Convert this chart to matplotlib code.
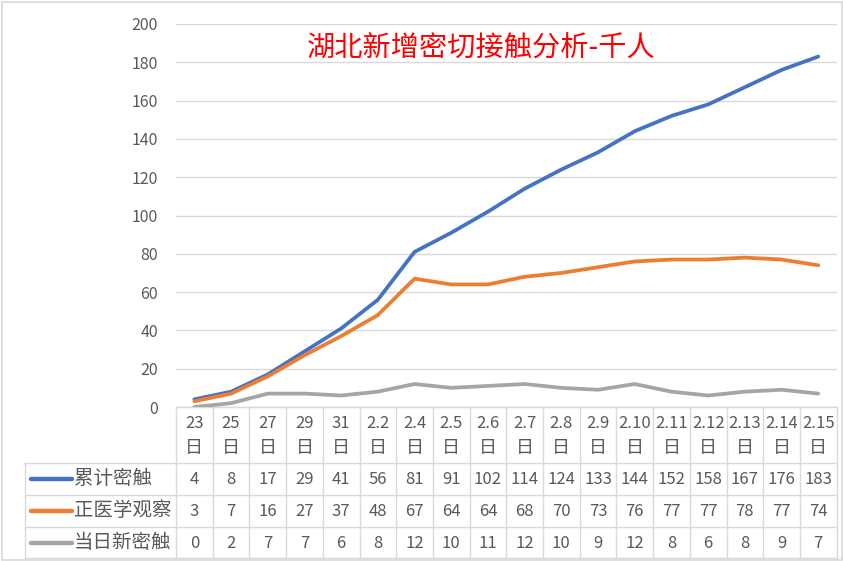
import matplotlib
matplotlib.use("Agg")
import matplotlib.pyplot as plt
from matplotlib import transforms
from matplotlib.lines import Line2D
from matplotlib.patches import Rectangle

plt.rcParams['font.family'] = ['Noto Sans CJK SC', 'DejaVu Sans']

# ---- data ----
dates_num = ["23", "25", "27", "29", "31", "2.2", "2.4", "2.5", "2.6", "2.7", "2.8",
             "2.9", "2.10", "2.11", "2.12", "2.13", "2.14", "2.15"]
date_suffix = "日"
series_names = ["累计密触", "正医学观察", "当日新密触"]
cumulative = [4, 8, 17, 29, 41, 56, 81, 91, 102, 114, 124, 133, 144, 152, 158, 167, 176, 183]
observed = [3, 7, 16, 27, 37, 48, 67, 64, 64, 68, 70, 73, 76, 77, 77, 78, 77, 74]
daily_new = [0, 2, 7, 7, 6, 8, 12, 10, 11, 12, 10, 9, 12, 8, 6, 8, 9, 7]
yticks = [0, 20, 40, 60, 80, 100, 120, 140, 160, 180, 200]
title = "湖北新增密切接触分析-千人"

colors = ["#4472C4", "#ED7D31", "#A5A5A5"]
series = [cumulative, observed, daily_new]

W, H = 843, 561
fig = plt.figure(figsize=(W / 100, H / 100), dpi=100)

x_left, x_right = 176, 836.6
y_top, y_zero = 24, 407
ax = fig.add_axes([x_left / W, 1 - y_zero / H, (x_right - x_left) / W, (y_zero - y_top) / H])

n = len(dates_num)
xs = list(range(n))
ax.set_xlim(-0.5, n - 0.5)
ax.set_ylim(0, 200)
ax.set_yticks(yticks)
ax.set_yticklabels([str(v) for v in yticks], fontsize=11.5, color="#595959")
ax.tick_params(axis='y', length=0, pad=13)
ax.set_xticks([])
for s in ax.spines.values():
    s.set_visible(False)
ax.grid(axis='y', color="#D9D9D9", linewidth=1.0)
ax.set_axisbelow(True)

for vals, c in zip(series, colors):
    ax.plot(xs, vals, color=c, linewidth=2.7, solid_capstyle='round', solid_joinstyle='round', zorder=3)

fig.text(481 / W, 1 - 49 / H, title, color="#FF0000", fontsize=20.3, fontweight='light',
         ha='center', va='center')

# ---- table ----
def ay(ypix):
    return (y_zero - ypix) / (y_zero - y_top)

def fy(ypix):
    return 1 - ypix / H

bt = transforms.blended_transform_factory(ax.transData, ax.transAxes)
grid_c = "#D9D9D9"
txt_c = "#595959"

row_lines = [463, 495, 527, 558]
# vertical lines
for i in range(n + 1):
    xv = i - 0.5
    ax.add_line(Line2D([xv, xv], [ay(407), ay(558)], transform=bt, color=grid_c,
                       linewidth=1.0, clip_on=False))
# horizontal lines within data columns
for yp in [407] + row_lines:
    ax.add_line(Line2D([-0.5, n - 0.5], [ay(yp), ay(yp)], transform=bt, color=grid_c,
                       linewidth=1.0, clip_on=False))
# label column lines
for yp in row_lines:
    fig.add_artist(Line2D([25 / W, x_left / W], [fy(yp), fy(yp)], color=grid_c, linewidth=1.0))
fig.add_artist(Line2D([25 / W, 25 / W], [fy(463), fy(558)], color=grid_c, linewidth=1.0))

# header
for i, d in enumerate(dates_num):
    ax.text(i, ay(424), d, transform=bt, ha='center', va='center', fontsize=12, color=txt_c, clip_on=False)
    ax.text(i, ay(448), date_suffix, transform=bt, ha='center', va='center', fontsize=13,
            fontweight='light', color=txt_c, clip_on=False)

row_centers = [479, 511, 543]
for name, vals, c, yc in zip(series_names, series, colors, row_centers):
    fig.add_artist(Line2D([31 / W, 72 / W], [fy(yc), fy(yc)], color=c, linewidth=3.2, solid_capstyle='round'))
    fig.text(74 / W, fy(yc), name, ha='left', va='center', fontsize=14, fontweight='light', color=txt_c)
    for i, v in enumerate(vals):
        ax.text(i, ay(yc), str(v), transform=bt, ha='center', va='center', fontsize=12,
                color=txt_c, clip_on=False)

# figure border
fig.add_artist(Rectangle((1.5 / W, 1.5 / H), (W - 3) / W, (H - 3) / H, fill=False,
                         edgecolor="#D9D9D9", linewidth=1.2, transform=fig.transFigure))

fig.savefig("out.png", dpi=100)
